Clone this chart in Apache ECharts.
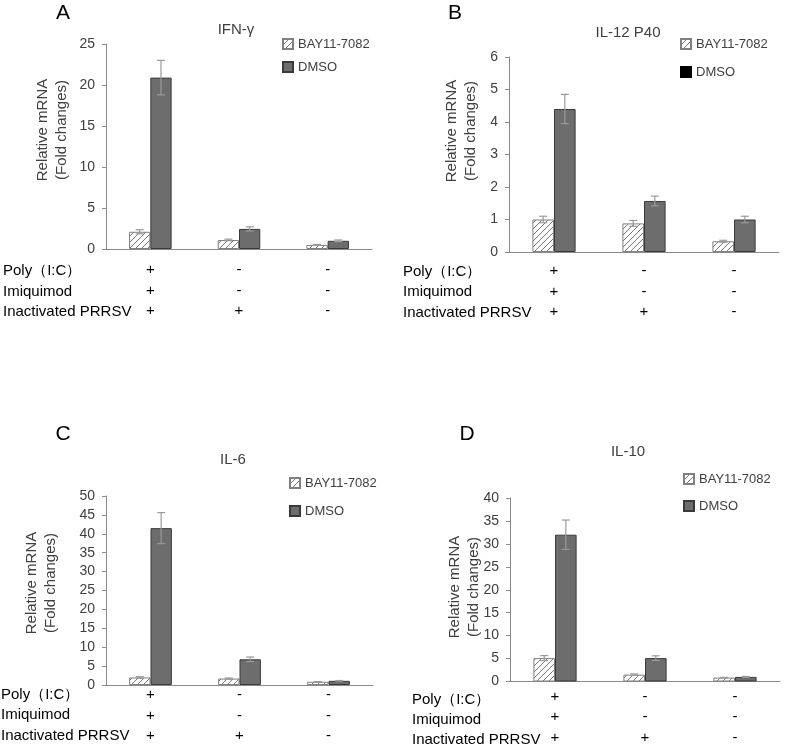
<!DOCTYPE html>
<html><head><meta charset="utf-8">
<script src="https://cdn.jsdelivr.net/npm/echarts@6/dist/echarts.min.js"></script>
<style>html,body{margin:0;padding:0;background:#fff}#c{width:787px;height:748px}</style>
</head><body><div id="c"></div>
<script>
// ---- data ----
const conditions = ['Poly（I:C）', 'Imiquimod', 'Inactivated PRRSV'];
const categories = ['+\n+\n+', '-\n-\n+', '-\n-\n-'];
const seriesNames = ['BAY11-7082', 'DMSO'];
const panelLetters = ['A', 'B', 'C', 'D'];
const panelTitles = ['IFN-γ', 'IL-12 P40', 'IL-6', 'IL-10'];
const yMax = [25, 6, 50, 40];
const yInterval = [5, 1, 5, 5];
// panel A (IFN-γ)
const bayA = [2.1, 1.1, 0.5];
const bayErrA = [0.25, 0.1, 0.05];
const dmsoA = [20.9, 2.45, 1.0];
const dmsoErrA = [2.1, 0.25, 0.1];
// panel B (IL-12 P40)
const bayB = [1.0, 0.88, 0.33];
const bayErrB = [0.1, 0.09, 0.03];
const dmsoB = [4.4, 1.57, 1.0];
const dmsoErrB = [0.45, 0.15, 0.1];
// panel C (IL-6)
const bayC = [2.0, 1.7, 0.85];
const bayErrC = [0.2, 0.15, 0.05];
const dmsoC = [41.5, 6.8, 1.1];
const dmsoErrC = [4.1, 0.6, 0.1];
// panel D (IL-10)
const bayD = [5.1, 1.5, 0.85];
const bayErrD = [0.55, 0.15, 0.05];
const dmsoD = [32, 5.1, 1.0];
const dmsoErrD = [3.2, 0.5, 0.1];

const bayAll = [bayA, bayB, bayC, bayD];
const bayErrAll = [bayErrA, bayErrB, bayErrC, bayErrD];
const dmsoAll = [dmsoA, dmsoB, dmsoC, dmsoD];
const dmsoErrAll = [dmsoErrA, dmsoErrB, dmsoErrC, dmsoErrD];

// ---- layout / style ----
const FONT = '"Liberation Sans", Arial, sans-serif';
const TXT = '#404040';
const grids = [
  {left: 106, right: 415, top: 44, bottom: 499},
  {left: 509, right: 8, top: 57, bottom: 496},
  {left: 106, right: 414, top: 496, bottom: 63},
  {left: 510, right: 7, top: 498, bottom: 64}
];
const xLabelMargin = [11, 9, 0, 5];
const rowLabelPos = [
  {x: 3, ys: [271, 292, 312]},
  {x: 403, ys: [272, 292, 313]},
  {x: 1, ys: [695, 715, 736]},
  {x: 412, ys: [700, 720, 740]}
];
const yNamePos = [[52, 130], [461, 131], [41, 583], [464, 587]];
const letterPos = [[63, 13], [455, 13], [63, 434], [467, 434]];
const titlePos = [[231, 26], [623, 29], [228, 456], [623, 448]];
const legendPos = [
  {left: 277, top: 32, gap: 9},
  {left: 675, top: 32, gap: 14},
  {left: 284, top: 471, gap: 14},
  {left: 678, top: 467, gap: 13}
];
const CAT_GAP = 0.52;

function hatch() {
  const c = document.createElement('canvas');
  c.width = 6; c.height = 6;
  const g = c.getContext('2d');
  g.fillStyle = '#fff'; g.fillRect(0, 0, 6, 6);
  g.strokeStyle = '#7a7a7a'; g.lineWidth = 1;
  g.beginPath();
  g.moveTo(0, 6); g.lineTo(6, 0);
  g.moveTo(-1, 1); g.lineTo(1, -1);
  g.moveTo(5, 7); g.lineTo(7, 5);
  g.stroke();
  return c;
}
const hatchPattern = {image: hatch(), repeat: 'repeat'};
const DARK = '#6d6d6d';

const xAxis = [], yAxis = [], series = [], legend = [], title = [], graphic = [];
for (let p = 0; p < 4; p++) {
  xAxis.push({
    type: 'category', gridIndex: p, data: categories,
    axisLine: {lineStyle: {color: '#8a8a8a'}}, axisTick: {show: false},
    axisLabel: {color: '#000', fontFamily: FONT, fontSize: 15, lineHeight: 20.5,
      margin: xLabelMargin[p], interval: 0}
  });
  yAxis.push({
    type: 'value', gridIndex: p, min: 0, max: yMax[p], interval: yInterval[p],
    splitLine: {show: false},
    axisLine: {show: true, lineStyle: {color: '#8a8a8a'}},
    axisTick: {show: true, length: 4, lineStyle: {color: '#8a8a8a'}},
    axisLabel: {color: TXT, fontFamily: FONT, fontSize: 14, margin: 11}
  });
  series.push({
    type: 'bar', name: seriesNames[0], xAxisIndex: p, yAxisIndex: p,
    data: bayAll[p], barGap: '0%', barCategoryGap: (CAT_GAP * 100) + '%',
    itemStyle: {color: hatchPattern, borderColor: '#808080', borderWidth: 1}
  });
  series.push({
    type: 'bar', name: seriesNames[1], xAxisIndex: p, yAxisIndex: p,
    data: dmsoAll[p], barGap: '0%', barCategoryGap: (CAT_GAP * 100) + '%',
    itemStyle: {color: DARK, borderColor: '#3a3a3a', borderWidth: 1}
  });
  [[bayAll[p], bayErrAll[p], -1], [dmsoAll[p], dmsoErrAll[p], 1]].forEach(function (s) {
    const vals = s[0], errs = s[1], side = s[2];
    series.push({
      type: 'custom', xAxisIndex: p, yAxisIndex: p, silent: true, z: 5,
      data: vals.map(function (v, i) { return [i, v - errs[i], v + errs[i]]; }),
      renderItem: function (params, api) {
        const i = api.value(0);
        const lo = api.coord([i, api.value(1)]);
        const hi = api.coord([i, api.value(2)]);
        const band = api.size([1, 0])[0];
        const bw = band * (1 - CAT_GAP) / 2;
        const x = lo[0] + side * bw / 2;
        const cap = 4;
        const st = {stroke: '#9a9a9a', lineWidth: 1.2};
        return {type: 'group', children: [
          {type: 'line', shape: {x1: x, y1: lo[1], x2: x, y2: hi[1]}, style: st},
          {type: 'line', shape: {x1: x - cap, y1: hi[1], x2: x + cap, y2: hi[1]}, style: st},
          {type: 'line', shape: {x1: x - cap, y1: lo[1], x2: x + cap, y2: lo[1]}, style: st}
        ]};
      }
    });
  });
  legend.push({
    orient: 'vertical', left: legendPos[p].left, top: legendPos[p].top,
    itemGap: legendPos[p].gap, itemWidth: 10, itemHeight: 10, itemTextGap: 4,
    selectedMode: false,
    textStyle: {color: TXT, fontFamily: FONT, fontSize: 13, lineHeight: 14},
    data: [
      {name: seriesNames[0], icon: 'rect'},
      p === 1 ? {name: seriesNames[1], icon: 'rect', itemStyle: {color: '#000', borderColor: '#000'}}
              : {name: seriesNames[1], icon: 'rect'}
    ]
  });
  title.push({
    text: panelTitles[p], left: titlePos[p][0], top: titlePos[p][1] - 9, textAlign: 'center',
    textStyle: {color: TXT, fontFamily: FONT, fontSize: 15, fontWeight: 'normal'}
  });
  graphic.push({
    type: 'text', x: letterPos[p][0], y: letterPos[p][1],
    style: {text: panelLetters[p], font: '21px ' + FONT, fill: '#000',
      textAlign: 'center', textVerticalAlign: 'middle', align: 'center', verticalAlign: 'middle'}
  });
  graphic.push({
    type: 'text', x: yNamePos[p][0], y: yNamePos[p][1], rotation: Math.PI / 2,
    style: {text: 'Relative mRNA\n(Fold changes)', font: '15px ' + FONT, fill: TXT,
      lineHeight: 19, textAlign: 'center', textVerticalAlign: 'middle', align: 'center', verticalAlign: 'middle'}
  });
  conditions.forEach(function (c, r) {
    graphic.push({
      type: 'text', x: rowLabelPos[p].x, y: rowLabelPos[p].ys[r],
      style: {text: c, font: '15px ' + FONT, fill: '#000',
        textAlign: 'left', textVerticalAlign: 'middle', align: 'left', verticalAlign: 'middle'}
    });
  });
}

const chart = echarts.init(document.getElementById('c'), null, {renderer: 'canvas'});
chart.setOption({
  animation: false,
  backgroundColor: '#fff',
  grid: grids, xAxis: xAxis, yAxis: yAxis, series: series,
  legend: legend, title: title, graphic: graphic
});
</script></body></html>
